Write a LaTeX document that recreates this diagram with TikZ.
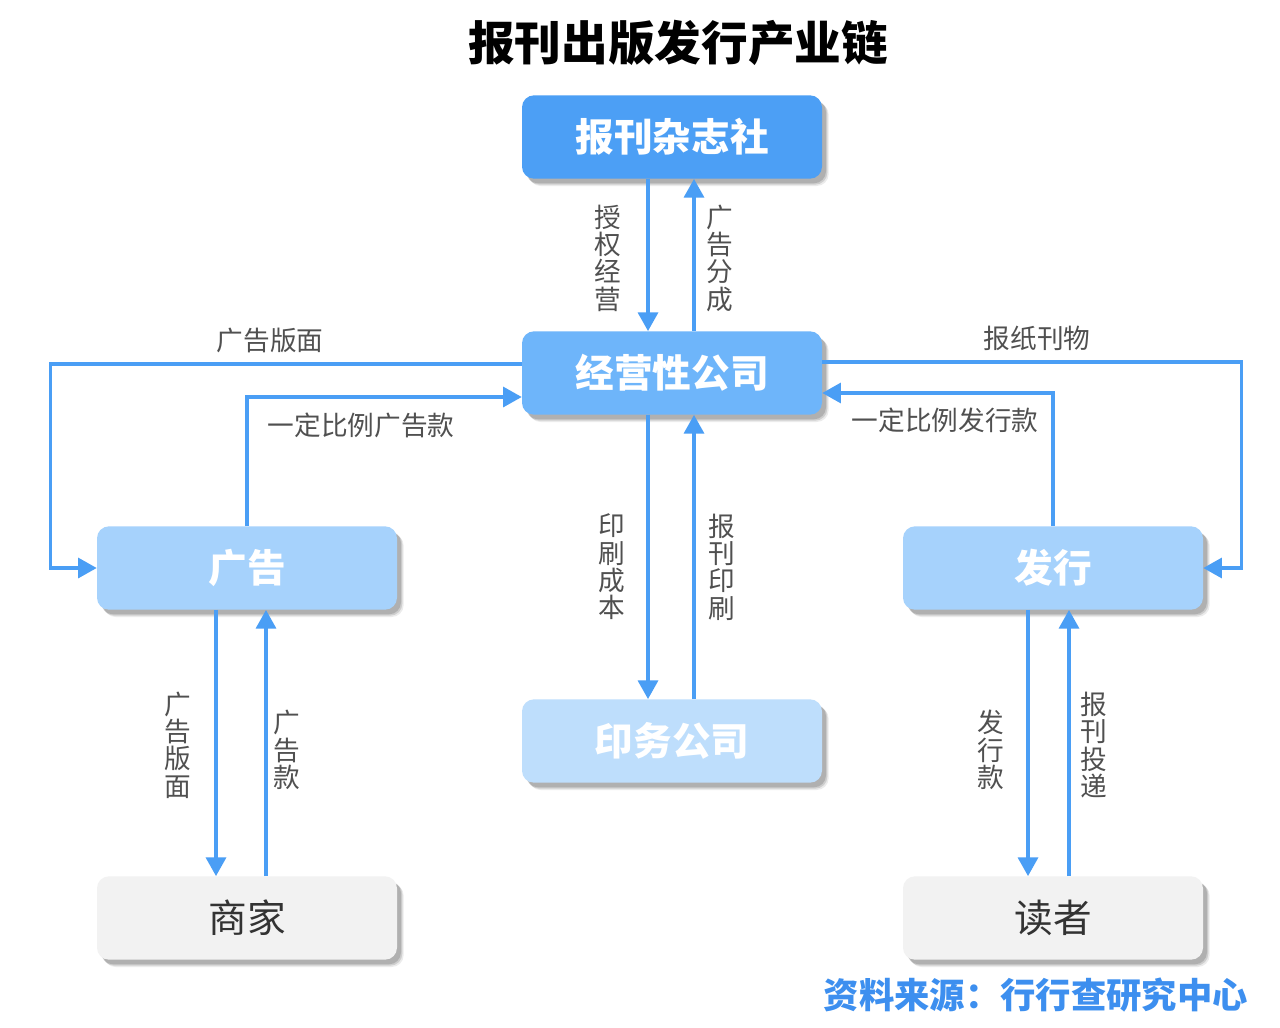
\documentclass[tikz,border=0pt]{standalone}
\usepackage{fontspec}
\setmainfont{Noto Sans CJK SC}
\usetikzlibrary{arrows.meta,calc,shadows}
\definecolor{cTop}{HTML}{4C9FF5}
\definecolor{cOp}{HTML}{6EB5FA}
\definecolor{cMid}{HTML}{A6D2FC}
\definecolor{cPrint}{HTML}{BEDEFC}
\definecolor{cLow}{HTML}{F2F2F2}
\definecolor{cArrow}{HTML}{4A9EF5}
\definecolor{cLabel}{HTML}{505050}
\definecolor{cSrc}{HTML}{3D8FEF}
\begin{document}
\begin{tikzpicture}[x=0.75pt,y=-0.75pt,
  box/.style={rounded corners=9pt, minimum width=225pt, minimum height=62.5pt,
    inner sep=0pt,
    drop shadow={shadow xshift=5pt, shadow yshift=-5.5pt, fill=black, opacity=0.08},
    drop shadow={shadow xshift=4pt, shadow yshift=-4.5pt, fill=black, opacity=0.12},
    drop shadow={shadow xshift=3pt, shadow yshift=-3.5pt, fill=black, opacity=0.14}},
  bluebox/.style={box, text=white, font=\bfseries\fontsize{29}{32}\selectfont},
  greybox/.style={box, fill=cLow, text=black!80, font=\fontsize{29}{32}\selectfont},
  arr/.style={draw=cArrow, line width=2.4pt, -{Triangle[length=14pt,width=15pt]}},
  lab/.style={text=cLabel, font=\fontsize{20}{20.5}\selectfont, inner sep=0pt, align=center}
]
\useasboundingbox (0,0) rectangle (1280,1027);
\fill[white] (0,0) rectangle (1280,1027);

% title
\node[font=\bfseries\fontsize{35}{38}\selectfont, text=black] (title) at (678,43) {报刊出版发行产业链};

% boxes
\node[bluebox, fill=cTop] (pub) at (672,137) {报刊杂志社};
\node[bluebox, fill=cOp] (op) at (672,373) {经营性公司};
\node[bluebox, fill=cMid] (ad) at (247,568) {广告};
\node[bluebox, fill=cMid] (dist) at (1053,568) {发行};
\node[bluebox, fill=cPrint] (print) at (672,741) {印务公司};
\node[greybox] (merch) at (247,918) {商家};
\node[greybox] (reader) at (1053,918) {读者};

% center column
\draw[arr] ($(pub.south)+(-24,0)$) -- ($(op.north)+(-24,0)$);
\draw[arr] ($(op.north)+(22,0)$) -- ($(pub.south)+(22,0)$);
\draw[arr] ($(op.south)+(-24,0)$) -- ($(print.north)+(-24,0)$);
\draw[arr] ($(print.north)+(22,0)$) -- ($(op.south)+(22,0)$);

% left loop
\draw[arr] ($(op.west)+(0,-9)$) -| ($(ad.west)+(-46,0)$) -- (ad.west);
\draw[arr] (ad.north) |- ($(op.west)+(0,24)$);

% right loop
\draw[arr] ($(op.east)+(0,-11)$) -| ($(dist.east)+(38,0)$) -- (dist.east);
\draw[arr] (dist.north) |- ($(op.east)+(0,20)$);

% bottom left
\draw[arr] ($(ad.south)+(-31,0)$) -- ($(merch.north)+(-31,0)$);
\draw[arr] ($(merch.north)+(19,0)$) -- ($(ad.south)+(19,0)$);

% bottom right
\draw[arr] ($(dist.south)+(-25,0)$) -- ($(reader.north)+(-25,0)$);
\draw[arr] ($(reader.north)+(16,0)$) -- ($(dist.south)+(16,0)$);

% labels
\node[lab] (l1) at (608,258) {授\\权\\经\\营};
\node[lab] (l2) at (720,258) {广\\告\\分\\成};
\node[lab] (l3) at (612,567) {印\\刷\\成\\本};
\node[lab] (l4) at (722,567) {报\\刊\\印\\刷};
\node[lab] (l5) at (270,340) {广告版面};
\node[lab] (l6) at (361,425) {一定比例广告款};
\node[lab] (l7) at (1037,338) {报纸刊物};
\node[lab] (l8) at (945,420) {一定比例发行款};
\node[lab] (l9) at (178,745) {广\\告\\版\\面};
\node[lab] (l10) at (287,750) {广\\告\\款};
\node[lab] (l11) at (991,750) {发\\行\\款};
\node[lab] (l12) at (1094,745) {报\\刊\\投\\递};

% source
\node[anchor=east, text=cSrc, font=\bfseries\fontsize{26.5}{28}\selectfont, inner sep=0pt] (src) at (1248,995) {资料来源：行行查研究中心};
\end{tikzpicture}
\end{document}
